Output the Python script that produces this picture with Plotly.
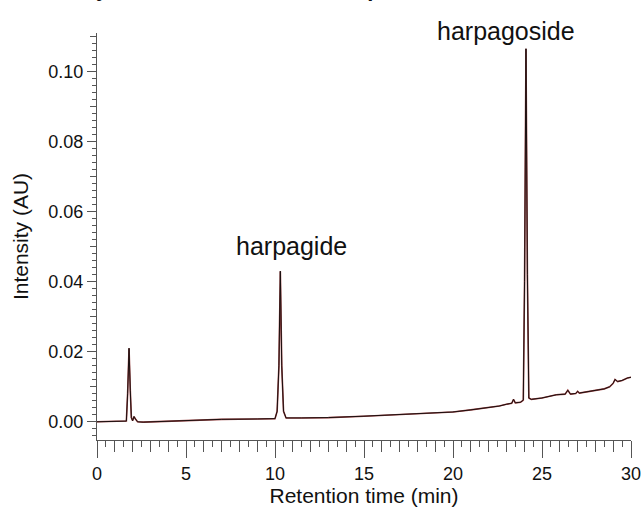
import plotly.graph_objects as go

# Retention time (min) and intensity (AU)
time_min = [0.0, 1.5, 1.65, 1.72, 1.80, 1.87, 1.93, 2.00, 2.08, 2.16, 2.28, 2.6, 3.5,
            5.0, 7.0, 9.0, 10.0, 10.12, 10.22, 10.30, 10.38, 10.48, 10.62, 11.5, 13.0,
            15.0, 17.0, 19.0, 20.0, 21.0, 22.0, 22.6, 23.0, 23.3, 23.4, 23.5, 23.8,
            23.95, 24.02, 24.10, 24.18, 24.26, 24.4, 25.0, 25.8, 26.3, 26.45, 26.6,
            26.9, 27.0, 27.1, 27.9, 28.5, 28.8, 29.0, 29.1, 29.25, 29.5, 29.8, 30.0]
intensity = [0.0000, 0.0000, 0.0002, 0.0080, 0.0210, 0.0090, 0.0012, 0.0003, 0.0015,
             0.0008, 0.0000, -0.0001, 0.0001, 0.0004, 0.0007, 0.0008, 0.0009, 0.0030,
             0.0160, 0.0430, 0.0160, 0.0030, 0.0011, 0.0011, 0.0012, 0.0016, 0.0021,
             0.0025, 0.0028, 0.0034, 0.0040, 0.0045, 0.0050, 0.0053, 0.0064, 0.0054,
             0.0056, 0.0062, 0.0400, 0.1065, 0.0420, 0.0068, 0.0064, 0.0068, 0.0077,
             0.0079, 0.0090, 0.0079, 0.0081, 0.0087, 0.0082, 0.0088, 0.0094, 0.0100,
             0.0110, 0.0121, 0.0115, 0.0118, 0.0125, 0.0127]

peak_names = ["harpagide", "harpagoside"]
label_x = [10.95, 22.95]
label_y = [0.0502, 0.1162]

x_range = [0, 30]
y_range = [-0.0052, 0.111]

axis_col = "#555555"
font_fam = "Liberation Sans, Arial, sans-serif"

fig = go.Figure()
fig.add_trace(go.Scatter(x=time_min, y=intensity, mode="lines",
                         line=dict(color="#9a4040", width=1.6), hoverinfo="skip",
                         showlegend=False))
fig.add_trace(go.Scatter(x=time_min, y=intensity, mode="lines",
                         line=dict(color="#1a1010", width=1.0), showlegend=False))
# invisible trace carrying the fine tick axes
fig.add_trace(go.Scatter(x=x_range, y=y_range, xaxis="x2", yaxis="y2", mode="markers",
                         marker=dict(opacity=0), hoverinfo="skip", showlegend=False))

y_span = y_range[1] - y_range[0]
for name, lx, ly in zip(peak_names, label_x, label_y):
    fig.add_annotation(x=lx, y=(ly - y_range[0]) / y_span, yref="paper", text=name,
                       showarrow=False,
                       font=dict(size=25, color="#111111", family=font_fam))

fig.add_annotation(xref="paper", yref="paper", x=-0.0356, y=1.074, xanchor="left",
                   yanchor="bottom", text="<b>Hydroalcoholic extract sample</b>",
                   showarrow=False, font=dict(size=22, color="#111111", family=font_fam))

fig.update_layout(
    width=643, height=516,
    margin=dict(l=97, r=12, t=33, b=76),
    plot_bgcolor="white", paper_bgcolor="white",
    font=dict(family=font_fam, size=18, color="#111111"),
    xaxis=dict(range=x_range, showgrid=False, zeroline=False, showline=True,
               linecolor=axis_col, linewidth=1, ticks="outside", ticklen=17,
               tickcolor=axis_col, tickwidth=1, dtick=5, tick0=0, automargin=False,
               tickfont=dict(size=18),
               minor=dict(dtick=1, ticklen=11, tickcolor=axis_col, ticks="outside"),
               title=dict(text="Retention time (min)", font=dict(size=21), standoff=2)),
    yaxis=dict(range=y_range, showgrid=False, zeroline=False, showline=True,
               linecolor=axis_col, linewidth=1, ticks="outside", ticklen=9,
               tickcolor=axis_col, tickwidth=1, dtick=0.02, tick0=0, automargin=False,
               tickformat=".2f", tickfont=dict(size=18),
               minor=dict(dtick=0.01, ticklen=6, tickcolor=axis_col, ticks="outside"),
               title=dict(text="Intensity (AU)", font=dict(size=21), standoff=14)),
    xaxis2=dict(range=x_range, overlaying="x", anchor="y2", showgrid=False,
                zeroline=False, showticklabels=False, ticks="outside", ticklen=6,
                tickcolor=axis_col, dtick=0.5, tick0=0, side="bottom", automargin=False),
    yaxis2=dict(range=y_range, overlaying="y", anchor="x2", showgrid=False,
                zeroline=False, showticklabels=False, ticks="outside", ticklen=4,
                tickcolor=axis_col, dtick=0.002, tick0=0, side="left", automargin=False),
)

fig.write_html("out.html", config={"displayModeBar": False},
               post_script="document.body.style.margin='0';")
